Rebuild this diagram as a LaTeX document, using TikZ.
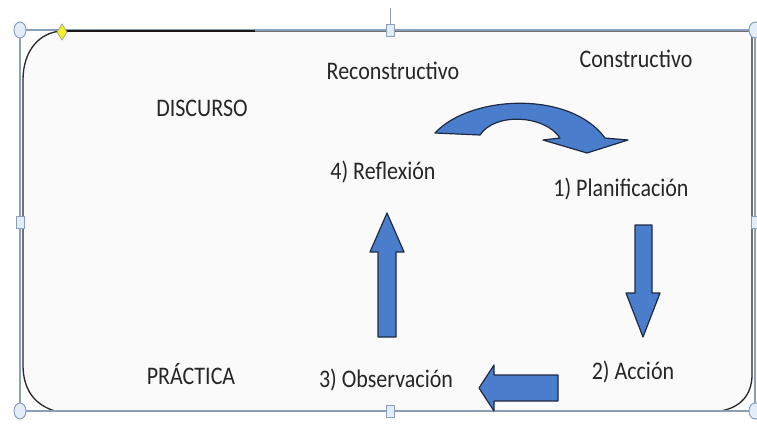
\documentclass[tikz,border=0pt]{standalone}
\usepackage{fontspec}
\setmainfont{Carlito}
\usetikzlibrary{positioning}
\definecolor{blockblue}{RGB}{74,126,205}
\definecolor{blockline}{RGB}{30,42,66}
\definecolor{ink}{RGB}{38,38,38}
\definecolor{panel}{RGB}{250,250,250}
\definecolor{selline}{RGB}{138,160,186}
\definecolor{selfill}{RGB}{226,237,248}
\definecolor{knob}{RGB}{244,240,40}
\newcommand\tallt[1]{\scalebox{1}[1.15]{#1}}
\tikzset{
  lbl/.style={font=\fontsize{22}{26}\selectfont,text=ink,inner sep=0pt},
  blockarrow/.style={fill=blockblue,draw=blockline,line width=1.2pt,line join=round},
  panelline/.style={draw=black!85,line width=1.3pt,fill=panel},
  selframe/.style={draw=selline,line width=1.6pt},
  handle/.style={draw=selline,fill=selfill,line width=1pt},
}
\begin{document}
\begin{tikzpicture}[x=1pt,y=-1pt]
  \useasboundingbox[fill=white] (0,0) rectangle (757,431);

  % panel
  \draw[panelline] (62,31) -- (752,31) -- (752,375)
    .. controls (752,395) and (740,408) .. (720,411) -- (55,411)
    .. controls (35,405) and (23,390) .. (23,365) -- (23,80)
    .. controls (23,50) and (40,32) .. (62,31) -- cycle;

  % selection frame
  \draw[selframe] (20,30) rectangle (755,411);
  \draw[selline,line width=1pt] (390,8) -- (390,24);
  \draw[black!90,line width=2.4pt] (62,31) -- (255,31);
  \foreach \hx/\hy in {20/30,20/411,755/30,755/411}
    \draw[handle] (\hx,\hy) ellipse (6pt and 8pt);
  \foreach \hx/\hy in {390/30,390/411,20/222,755/222}
    \draw[handle] (\hx-4,\hy-6) rectangle (\hx+4,\hy+6);
  \draw[fill=knob,draw=black!40,line width=0.6pt] (62,24) -- (67,32) -- (62,40) -- (57,32) -- cycle;

  % labels
  \node[lbl] (discurso) at (202,108) {\tallt{DISCURSO}};
  \node[lbl] (practica) at (191,374) {\tallt{PRÁCTICA}};
  \node[lbl] (reconst) at (393,71) {\tallt{Reconstructivo}};
  \node[lbl] (construct) at (636,59) {\tallt{Constructivo}};
  \node[lbl] (reflexion) at (383,172) {\tallt{4) Reflexión}};
  \node[lbl] (planif) at (621,189) {\tallt{1) Planificación}};
  \node[lbl] (accion) at (633,372) {\tallt{2) Acción}};
  \node[lbl] (observ) at (386,380) {\tallt{3) Observación}};

  % block arrows
  \draw[blockarrow] (435,133) .. controls (470,95) and (570,90) .. (605,138)
    -- (628,140) -- (587,153) -- (543,140) -- (560,138)
    .. controls (545,115) and (495,112) .. (480,135) -- cycle;
  \draw[blockarrow] (635,225) -- (652,225) -- (652,293) -- (660,293)
    -- (643,337) -- (626,293) -- (635,293) -- cycle;
  \draw[blockarrow] (558,375) -- (558,401) -- (494,401) -- (494,411)
    -- (479,388) -- (494,365) -- (494,375) -- cycle;
  \draw[blockarrow] (378,337) -- (396,337) -- (396,252) -- (404,252)
    -- (387,213) -- (370,252) -- (378,252) -- cycle;
\end{tikzpicture}
\end{document}
